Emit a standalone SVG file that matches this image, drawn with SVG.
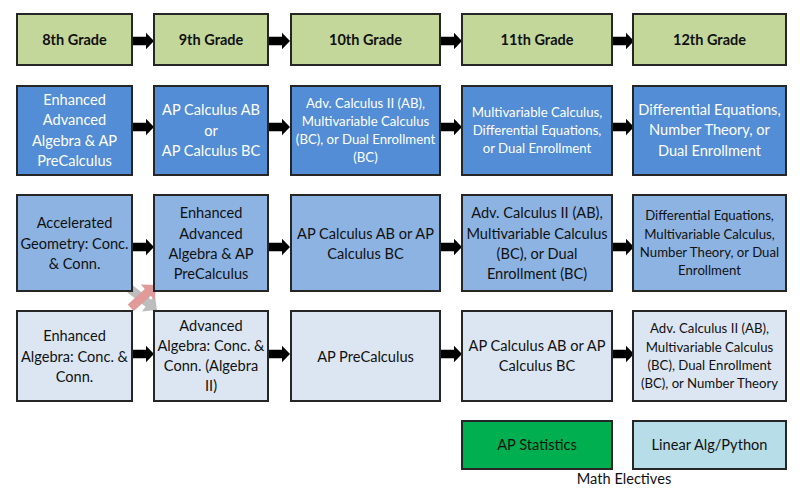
<svg xmlns="http://www.w3.org/2000/svg" width="800" height="489" viewBox="0 0 800 489">
<style>
rect{stroke:#262626;stroke-width:2}
.h{fill:#C4D79B}
.b1{fill:#538DD5}
.b2{fill:#8DB3E2}
.b3{fill:#DCE6F2}
.st{fill:#00B050}
.la{fill:#B7DDE8}
text{font-family:Lato,"Liberation Sans",sans-serif;text-anchor:middle;fill:#111}
.hd{font-weight:bold;font-size:14.5px}
.m{font-size:14.6px}
.s{font-size:13.2px}
.w{fill:#fff}
.arr{fill:#000}
</style>
<defs>
<path id="ar" d="M0,-4.2 H14 V-8.2 L22,0 L14,8.2 V4.2 H0 Z"/>
<path id="dg" d="M-34,-4.5 H-11 V-10.5 L0,0 L-11,10.5 V4.5 H-34 Z"/>
</defs>
<g id="connectors">
<use href="#ar" class="arr" transform="translate(132,41)"/>
<use href="#ar" class="arr" transform="translate(268,41)"/>
<use href="#ar" class="arr" transform="translate(440,41)"/>
<use href="#ar" class="arr" transform="translate(612,41)"/>
<use href="#ar" class="arr" transform="translate(132,127)"/>
<use href="#ar" class="arr" transform="translate(268,127)"/>
<use href="#ar" class="arr" transform="translate(440,127)"/>
<use href="#ar" class="arr" transform="translate(612,127)"/>
<use href="#ar" class="arr" transform="translate(132,247)"/>
<use href="#ar" class="arr" transform="translate(268,247)"/>
<use href="#ar" class="arr" transform="translate(440,247)"/>
<use href="#ar" class="arr" transform="translate(612,247)"/>
<use href="#ar" class="arr" transform="translate(132,354)"/>
<use href="#ar" class="arr" transform="translate(268,354)"/>
<use href="#ar" class="arr" transform="translate(440,354)"/>
<use href="#ar" class="arr" transform="translate(612,354)"/>
<use href="#dg" fill="#BDBDBD" transform="translate(157,310) rotate(38)"/>
<use href="#dg" fill="#E09A9A" transform="translate(156,285) rotate(-42)"/>
</g>
<g id="g8"><rect class="h" x="17" y="14" width="115" height="51"/><text class="hd" x="74.5" y="45">8th Grade</text></g>
<g id="g9"><rect class="h" x="154" y="14" width="114" height="51"/><text class="hd" x="211" y="45">9th Grade</text></g>
<g id="g10"><rect class="h" x="291" y="14" width="149" height="51"/><text class="hd" x="365.5" y="45">10th Grade</text></g>
<g id="g11"><rect class="h" x="462" y="14" width="150" height="51"/><text class="hd" x="537" y="45">11th Grade</text></g>
<g id="g12"><rect class="h" x="633" y="14" width="153" height="51"/><text class="hd" x="709.5" y="45">12th Grade</text></g>

<g id="r2c1"><rect class="b1" x="17" y="86" width="115" height="89"/><text class="m w"><tspan x="74.5" y="105">Enhanced</tspan><tspan x="74.5" y="125.3">Advanced</tspan><tspan x="74.5" y="145.7">Algebra &amp; AP</tspan><tspan x="74.5" y="166">PreCalculus</tspan></text></g>
<g id="r2c2"><rect class="b1" x="154" y="86" width="114" height="89"/><text class="m w"><tspan x="211" y="115">AP Calculus AB</tspan><tspan x="211" y="135.5">or</tspan><tspan x="211" y="156">AP Calculus BC</tspan></text></g>
<g id="r2c3"><rect class="b1" x="291" y="86" width="149" height="89"/><text class="s w"><tspan x="365.5" y="107.7">Adv. Calculus II (AB),</tspan><tspan x="365.5" y="126">Multivariable Calculus</tspan><tspan x="365.5" y="144.2">(BC), or Dual Enrollment</tspan><tspan x="365.5" y="162.4">(BC)</tspan></text></g>
<g id="r2c4"><rect class="b1" x="462" y="86" width="150" height="89"/><text class="s w"><tspan x="537" y="116.7">Multivariable Calculus,</tspan><tspan x="537" y="135">Differential Equations,</tspan><tspan x="537" y="152.8">or Dual Enrollment</tspan></text></g>
<g id="r2c5"><rect class="b1" x="633" y="86" width="153" height="89"/><text class="m w"><tspan x="709.5" y="115">Differential Equations,</tspan><tspan x="709.5" y="135.3">Number Theory, or</tspan><tspan x="709.5" y="155.6">Dual Enrollment</tspan></text></g>

<g id="r3c1"><rect class="b2" x="17" y="195" width="115" height="96"/><text class="m"><tspan x="74.5" y="228.3">Accelerated</tspan><tspan x="74.5" y="248.5">Geometry: Conc.</tspan><tspan x="74.5" y="268.6">&amp; Conn.</tspan></text></g>
<g id="r3c2"><rect class="b2" x="154" y="195" width="114" height="96"/><text class="m"><tspan x="211" y="218.3">Enhanced</tspan><tspan x="211" y="238.5">Advanced</tspan><tspan x="211" y="258.8">Algebra &amp; AP</tspan><tspan x="211" y="279">PreCalculus</tspan></text></g>
<g id="r3c3"><rect class="b2" x="291" y="195" width="149" height="96"/><text class="m"><tspan x="365.5" y="238.5">AP Calculus AB or AP</tspan><tspan x="365.5" y="258.8">Calculus BC</tspan></text></g>
<g id="r3c4"><rect class="b2" x="462" y="195" width="150" height="96"/><text class="m"><tspan x="537" y="218.3">Adv. Calculus II (AB),</tspan><tspan x="537" y="238.5">Multivariable Calculus</tspan><tspan x="537" y="258.8">(BC), or Dual</tspan><tspan x="537" y="279">Enrollment (BC)</tspan></text></g>
<g id="r3c5"><rect class="b2" x="633" y="195" width="153" height="96"/><text class="s"><tspan x="709.5" y="220.3">Differential Equations,</tspan><tspan x="709.5" y="238.6">Multivariable Calculus,</tspan><tspan x="709.5" y="256.9">Number Theory, or Dual</tspan><tspan x="709.5" y="275.2">Enrollment</tspan></text></g>

<g id="r4c1"><rect class="b3" x="17" y="311" width="115" height="90"/><text class="m"><tspan x="74.5" y="341.3">Enhanced</tspan><tspan x="74.5" y="361.6">Algebra: Conc. &amp;</tspan><tspan x="74.5" y="381.8">Conn.</tspan></text></g>
<g id="r4c2"><rect class="b3" x="154" y="311" width="114" height="90"/><text class="m"><tspan x="211" y="330.7">Advanced</tspan><tspan x="211" y="351">Algebra: Conc. &amp;</tspan><tspan x="211" y="371.3">Conn. (Algebra</tspan><tspan x="211" y="391.4">II)</tspan></text></g>
<g id="r4c3"><rect class="b3" x="291" y="311" width="149" height="90"/><text class="m" x="365.5" y="361.6">AP PreCalculus</text></g>
<g id="r4c4"><rect class="b3" x="462" y="311" width="150" height="90"/><text class="m"><tspan x="537" y="351">AP Calculus AB or AP</tspan><tspan x="537" y="371.3">Calculus BC</tspan></text></g>
<g id="r4c5"><rect class="b3" x="633" y="311" width="153" height="90"/><text class="s"><tspan x="709.5" y="333.3">Adv. Calculus II (AB),</tspan><tspan x="709.5" y="351.6">Multivariable Calculus</tspan><tspan x="709.5" y="369.9">(BC), Dual Enrollment</tspan><tspan x="709.5" y="388.2">(BC), or Number Theory</tspan></text></g>

<g id="stats"><rect class="st" x="462" y="421" width="150" height="48"/><text class="m" x="537" y="450">AP Statistics</text></g>
<g id="linalg"><rect class="la" x="633" y="421" width="153" height="48"/><text class="m" x="709.5" y="450">Linear Alg/Python</text></g>
<g id="electives-label"><text class="m" x="624" y="483.5">Math Electives</text></g>
</svg>
